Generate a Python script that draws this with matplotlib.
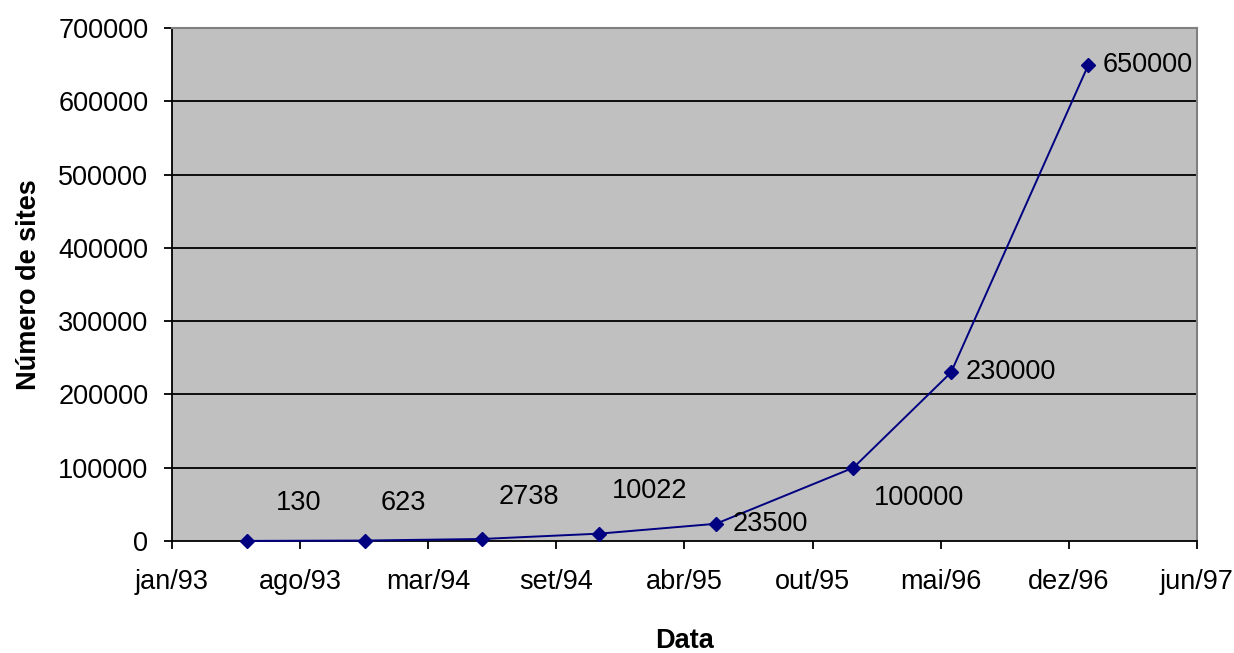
import datetime as dt
import numpy as np
import matplotlib
matplotlib.use("Agg")
import matplotlib.pyplot as plt
import matplotlib.dates as mdates

plt.rcParams['font.family'] = ['Liberation Sans', 'DejaVu Sans']

# dados (crescimento da web)
datas = [dt.date(1993, 6, 1), dt.date(1993, 12, 1), dt.date(1994, 6, 1),
         dt.date(1994, 12, 1), dt.date(1995, 6, 1), dt.date(1996, 1, 1),
         dt.date(1996, 6, 1), dt.date(1997, 1, 1)]
sites = [130, 623, 2738, 10022, 23500, 100000, 230000, 650000]
tick_labels = ["jan/93", "ago/93", "mar/94", "set/94", "abr/95",
               "out/95", "mai/96", "dez/96", "jun/97"]
y_ticks = [0, 100000, 200000, 300000, 400000, 500000, 600000, 700000]

# deslocamento dos rotulos (pixels)
lbl_off = [(51, 38), (39, 38), (47, 42), (51, 43), (54, 0), (66, -30), (60, 0), (59, 0)]

fs = 19.5

fig = plt.figure(figsize=(12.34, 6.53), dpi=100)
ax = fig.add_axes([172/1234, 1-541/653, (1197-172)/1234, (541-28)/653])
ax.set_facecolor('#C0C0C0')

x = mdates.date2num(datas)
t0 = mdates.date2num(dt.date(1993, 2, 4))
step = 199.5
xt = t0 + step*np.arange(len(tick_labels))
ax.set_xlim(xt[0], xt[-1])
ax.set_xticks(xt)
ax.set_xticklabels(tick_labels)
ax.set_ylim(0, 700000)
ax.set_yticks(y_ticks)
ax.set_yticklabels([str(v) for v in y_ticks])

for v in y_ticks[1:-1]:
    ax.axhline(v, color='black', lw=1.3, zorder=1)

ax.plot(x, sites, color='#000080', lw=1.4, marker='D', ms=7.5, mfc='#000080', mec='#000080', zorder=3, clip_on=False)

for xi, yi, val, (dx, dy) in zip(x, sites, sites, lbl_off):
    ax.annotate(str(val), (xi, yi), xytext=(dx, dy), textcoords='offset pixels',
                ha='center', va='center', fontsize=fs, color='black')

for s in ['top', 'right']:
    ax.spines[s].set_color('#808080')
    ax.spines[s].set_linewidth(1.5)
for s in ['left', 'bottom']:
    ax.spines[s].set_color('black')
    ax.spines[s].set_linewidth(1.3)

ax.tick_params(axis='both', direction='out', length=6, width=1.3, labelsize=fs, color='black')
ax.tick_params(axis='x', pad=14)
ax.tick_params(axis='y', pad=11)

ax.set_xlabel("Data", fontsize=fs, fontweight='bold')
ax.set_ylabel("Número de sites", fontsize=fs, fontweight='bold')
ax.xaxis.set_label_coords(0.5, -(641-541)/513)
ax.yaxis.set_label_coords((29-172)/1025, 0.5)
ax.xaxis.label.set_va('center')
ax.yaxis.label.set_va('center')

fig.savefig("out.png", dpi=100)
